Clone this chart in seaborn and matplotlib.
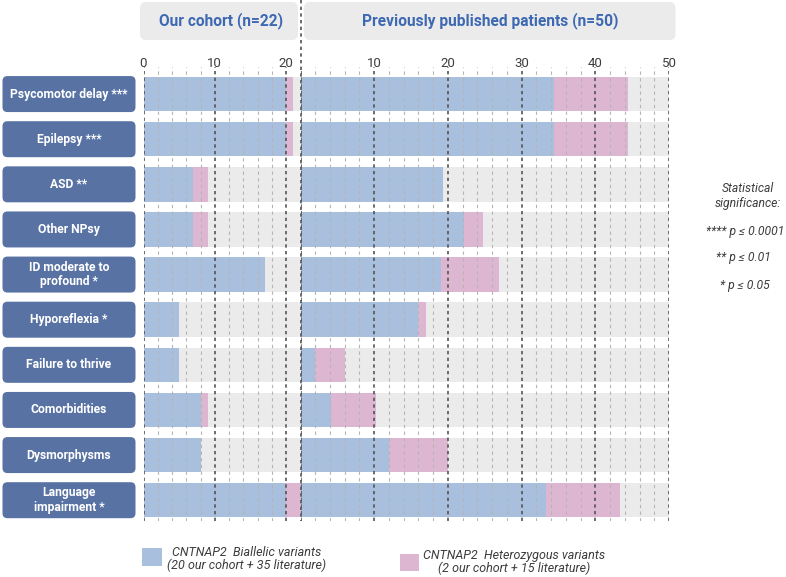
import numpy as np
import pandas as pd
import matplotlib
matplotlib.use("Agg")
import matplotlib.pyplot as plt
from matplotlib.patches import FancyBboxPatch, Rectangle
from matplotlib.ticker import MultipleLocator
from matplotlib.lines import Line2D
import seaborn as sns

features = ["Psycomotor delay ***", "Epilepsy ***", "ASD **", "Other NPsy",
            "ID moderate to\nprofound *", "Hyporeflexia *", "Failure to thrive",
            "Comorbidities", "Dysmorphysms", "Language\nimpairment *"]
cohort_biallelic = [20, 20, 7, 7, 17, 5, 5, 8, 8, 20]
cohort_hetero = [1, 1, 2, 2, 0, 0, 0, 1, 0, 2]
lit_biallelic = [34.4, 34.4, 19.3, 22.2, 19, 16, 2, 4.2, 12, 33.3]
lit_hetero = [10, 10, 0, 2.6, 8, 1, 4, 6, 8, 10]
cohort_n = 22
lit_n = 50
cohort_ticks = [0, 10, 20]
lit_ticks = [0, 10, 20, 30, 40, 50]
lit_ticklabels = ["", "10", "20", "30", "40", "50"]

BLUE = "#a8bfdd"
PINK = "#ddb7d1"
GREY = "#ebebeb"
BOX = "#5872a4"
TITLE = "#3d69b3"
TEXT = "#3c3c3c"

sns.set_theme(style="white")
plt.rcParams["font.family"] = ["Roboto", "DejaVu Sans"]

W, H = 786, 577
fig = plt.figure(figsize=(W / 100, H / 100), dpi=100)
top_px, bottom_px = 67, 520.5


def px_rect(x0, x1):
    return [x0 / W, 1 - bottom_px / H, (x1 - x0) / W, (bottom_px - top_px) / H]


def draw_panel(ax, biallelic, hetero, n, ticks, labels):
    df = pd.DataFrame({"feature": features,
                       "biallelic": biallelic,
                       "total": np.add(biallelic, hetero),
                       "n": n})
    for col, colour in [("n", GREY), ("total", PINK), ("biallelic", BLUE)]:
        sns.barplot(data=df, x=col, y="feature", orient="h", color=colour,
                    saturation=1, width=0.765, linewidth=0, errorbar=None, ax=ax)
    ax.set_xlim(0, n)
    ax.set_ylim(len(features) - 0.55, -0.6)
    ax.set_facecolor("none")
    ax.set_xlabel("")
    ax.set_ylabel("")
    ax.set_yticks([])
    ax.xaxis.tick_top()
    ax.set_xticks(ticks)
    ax.set_xticklabels(labels)
    ax.xaxis.set_minor_locator(MultipleLocator(2))
    ax.tick_params(axis="x", which="both", length=0, pad=-2.5,
                   labelsize=9.5, labelcolor=TEXT)
    ax.set_axisbelow(False)
    ax.grid(which="major", axis="x", color="#555555",
            linestyle=(0, (2, 2)), linewidth=1.2)
    ax.grid(which="minor", axis="x", color="#b5b5b5",
            linestyle=(0, (3, 3)), linewidth=0.8)
    for s in ax.spines.values():
        s.set_visible(False)


ax_l = fig.add_axes(px_rect(143.5, 300.5))
ax_r = fig.add_axes(px_rect(300.5, 669))
draw_panel(ax_l, cohort_biallelic, cohort_hetero, cohort_n,
           cohort_ticks, [str(t) for t in cohort_ticks])
draw_panel(ax_r, lit_biallelic, lit_hetero, lit_n, lit_ticks, lit_ticklabels)

# overlay in pixel coordinates for boxes and annotations
ov = fig.add_axes([0, 0, 1, 1], zorder=3)
ov.set_xlim(0, W)
ov.set_ylim(H, 0)
ov.set_facecolor("none")
ov.axis("off")

# headers
ov.add_patch(FancyBboxPatch((140, 2), 158, 38, boxstyle="round,pad=0,rounding_size=6",
                            facecolor=GREY, edgecolor="none"))
ov.text(221, 21, "Our cohort (n=22)", ha="center", va="center",
        fontsize=11.2, fontweight="bold", color=TITLE)
ov.add_patch(FancyBboxPatch((304, 2), 371.5, 38, boxstyle="round,pad=0,rounding_size=6",
                            facecolor=GREY, edgecolor="none"))
ov.text(490, 21, "Previously published patients (n=50)", ha="center", va="center",
        fontsize=11.2, fontweight="bold", color=TITLE)

# row label boxes aligned with the bar rows
for i, label in enumerate(features):
    y = H - ax_l.transData.transform((0, i))[1]
    ov.add_patch(FancyBboxPatch((2.5, y - 18), 133, 36,
                                boxstyle="round,pad=0,rounding_size=5",
                                facecolor=BOX, edgecolor="none"))
    ov.text(69, y, label, ha="center", va="center", color="white",
            fontsize=8.7, fontweight="bold", linespacing=1.15)

# boundary line between the two panels
x_b = ax_r.transData.transform((0, 0))[0]
ov.add_line(Line2D([x_b, x_b], [0, bottom_px], color="#555555",
                   linestyle=(0, (2, 2)), linewidth=1.2))

# significance notes
ov.text(748, 196, "Statistical\nsignificance:", ha="center", va="center",
        fontsize=8.7, style="italic", color=TEXT, linespacing=1.1)
ov.text(745, 231, "**** p ≤ 0.0001", ha="center", va="center",
        fontsize=8.7, style="italic", color=TEXT)
ov.text(743, 258, "** p ≤ 0.01", ha="center", va="center",
        fontsize=8.7, style="italic", color=TEXT)
ov.text(745, 285, "* p ≤ 0.05", ha="center", va="center",
        fontsize=8.7, style="italic", color=TEXT)

# legend
ov.add_patch(Rectangle((142, 548), 19.5, 18, facecolor=BLUE, edgecolor="none"))
ov.text(247, 559, "CNTNAP2  Biallelic variants\n(20 our cohort + 35 literature)",
        ha="center", va="center", fontsize=9, style="italic", color=TEXT,
        linespacing=1.05)
ov.add_patch(Rectangle((400, 554), 18.5, 17, facecolor=PINK, edgecolor="none"))
ov.text(514, 562, "CNTNAP2  Heterozygous variants\n(2 our cohort + 15 literature)",
        ha="center", va="center", fontsize=9, style="italic", color=TEXT,
        linespacing=1.05)

fig.savefig("out.png", dpi=100)
